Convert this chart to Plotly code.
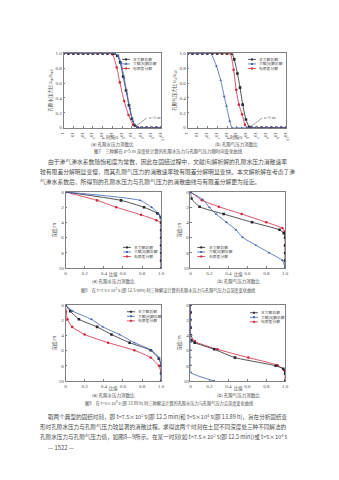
import plotly.graph_objects as go

W, H = 339, 480

# ---------------- data ----------------
series_names = ["本文解析解", "文献[6]解析解", "有限差分解"]
series_colors = ["#26262f", "#3f63b4", "#d2283e"]
series_symbols = ["square", "triangle-up", "circle"]

time_tick_vals = [1, 1e1, 1e2, 1e3, 1e4, 1e5, 1e6, 1e7, 1e8, 1e9, 1e10]
time_tick_text = ["1", "10", "10<sup>2</sup>", "10<sup>3</sup>", "10<sup>4</sup>", "10<sup>5</sup>",
                  "10<sup>6</sup>", "10<sup>7</sup>", "10<sup>8</sup>", "10<sup>9</sup>", "10<sup>10</sup>"]
ratio_tick_vals = [0, 0.2, 0.4, 0.6, 0.8, 1.0]
ratio_tick_text = ["0", "0.2", "0.4", "0.6", "0.8", "1.0"]
depth_tick_vals = [0, 2, 4, 6, 8, 10]
depth_tick_text = ["0", "2", "4", "6", "8", "10"]

# Fig.7(a) pore-water pressure ratio vs time at z = 5 m
t7a_this = [1, 3.16, 10, 31.6, 100, 316, 1e3, 3.16e3, 1e4, 3.16e4, 1e5, 1.6e5, 3.2e5, 6.3e5,
            1.26e6, 2.5e6, 5e6, 1e7, 2e7, 4e7, 1e8, 3.16e8, 1e9, 3.16e9, 1e10]
u7a_this = [1, 1, 1, 1, 1, 1, 1, 1, 1, 1, 1, 1.0, 0.97, 0.88, 0.69, 0.5, 0.3, 0.12, 0.03, 0.0,
            0, 0, 0, 0, 0]
t7a_ref6 = [1, 3.16, 10, 31.6, 100, 316, 1e3, 3.16e3, 1e4, 3.16e4, 1e5, 2e5, 4e5, 8e5,
            1.6e6, 3.2e6, 6.3e6, 1.26e7, 2.5e7, 5e7, 1e8, 3.16e8, 1e9, 3.16e9, 1e10]
u7a_ref6 = [1, 1, 1, 1, 1, 1, 1, 1, 1, 1, 1, 1.0, 0.97, 0.87, 0.67, 0.46, 0.26, 0.09, 0.02, 0.0,
            0, 0, 0, 0, 0]
t7a_fd = [1, 3.16, 10, 31.6, 100, 316, 1e3, 3.16e3, 1e4, 3.16e4, 1e5, 2.8e5, 5.8e5, 1.6e6,
          4.5e6, 1.3e7, 3.5e7, 1e8, 3.16e8, 1e9, 3.16e9, 1e10]
u7a_fd = [1, 1, 1, 1, 1, 1, 1, 1, 1, 1, 0.99, 0.81, 0.61, 0.36, 0.17, 0.04, 0.0, 0, 0, 0, 0, 0]

# Fig.7(b) pore-air pressure ratio vs time at z = 5 m
t7b_this = [1, 3.16, 10, 31.6, 100, 316, 1e3, 3.16e3, 1e4, 3.2e4, 5.4e4, 1.15e5, 2.1e5, 3.9e5,
            8.3e5, 1.8e6, 3.2e6, 1e7, 3.16e7, 1e8, 3.16e8, 1e9, 3.16e9, 1e10]
u7b_this = [1, 1, 1, 1, 1, 1, 1, 1, 1, 1.0, 0.92, 0.73, 0.54, 0.31, 0.11, 0.01, 0.0, 0, 0, 0,
            0, 0, 0, 0]
t7b_ref6 = [1, 3.16, 10, 31.6, 100, 230, 850, 2.3e3, 5.2e3, 8.9e3, 1.9e4, 3.2e4, 1e5, 3.16e5,
            1e6, 3.16e6, 1e7, 3.16e7, 1e8, 3.16e8, 1e9, 3.16e9, 1e10]
u7b_ref6 = [1, 1, 1, 1, 1, 1.0, 0.83, 0.64, 0.42, 0.29, 0.09, 0.0, 0, 0, 0, 0, 0, 0, 0, 0, 0,
            0, 0]
t7b_fd = [1, 3.16, 10, 31.6, 100, 316, 1e3, 3.16e3, 1e4, 2.2e4, 4.7e4, 8.5e4, 1.6e5, 3.4e5,
          6.6e5, 1.1e6, 3.16e6, 1e7, 3.16e7, 1e8, 3.16e8, 1e9, 3.16e9, 1e10]
u7b_fd = [1, 1, 1, 1, 1, 1, 1, 1, 1, 1.0, 0.78, 0.51, 0.31, 0.18, 0.04, 0.0, 0, 0, 0, 0, 0,
          0, 0, 0]

# Fig.8 profiles at t = 7.5e2 s
r8a_this = [0, 0.58, 0.82, 0.96, 0.995, 1.0, 1.0, 1.0, 1.0, 1.0, 1.0, 1.0]
z8a_this = [0, 1.1, 2.0, 2.8, 3.3, 4.0, 5.0, 6.0, 7.0, 8.0, 9.0, 10.0]
r8a_ref6 = [0, 0.78, 0.9, 0.975, 1.0, 1.0, 1.0, 1.0, 1.0, 1.0, 1.0]
z8a_ref6 = [0, 1.1, 2.0, 2.9, 3.5, 4.5, 5.5, 6.5, 7.5, 8.5, 10.0]
r8a_fd = [0, 0.33, 0.53, 0.79, 0.95, 1.0, 1.0, 1.0, 1.0, 1.0, 1.0, 1.0]
z8a_fd = [0, 1.1, 2.0, 3.0, 3.7, 4.1, 5.0, 6.0, 7.0, 8.0, 9.0, 10.0]

r8b_this = [0, 0.01, 0.096, 0.35, 0.65, 0.94, 0.985, 1.0, 1.0, 1.0, 1.0, 1.0]
z8b_this = [0, 0.86, 1.94, 2.89, 3.97, 4.96, 5.4, 6.0, 7.0, 8.0, 9.0, 10.0]
r8b_ref6 = [0, 0.13, 0.2, 0.27, 0.38, 0.48, 0.55, 0.69, 0.83, 0.97, 1.0]
z8b_ref6 = [0, 0.99, 2.03, 2.89, 3.97, 4.96, 5.95, 6.98, 7.97, 8.97, 9.9]
r8b_fd = [0, 0.12, 0.3, 0.54, 0.8, 0.97, 0.995, 1.0, 1.0, 1.0, 1.0, 1.0]
z8b_fd = [0, 1.08, 1.94, 2.89, 3.97, 4.74, 5.2, 6.0, 7.0, 8.0, 9.0, 10.0]

# Fig.9 profiles at t = 5e4 s
r9a_this = [0, 0.05, 0.14, 0.33, 0.48, 0.67, 0.89, 0.976, 1.0, 1.0, 1.0]
z9a_this = [0, 0.83, 1.9, 2.9, 3.9, 4.97, 5.97, 7.06, 8.0, 9.0, 10.0]
r9a_ref6 = [0, 0.075, 0.27, 0.39, 0.565, 0.72, 0.9, 0.976, 1.0, 1.0, 1.0]
z9a_ref6 = [0, 0.83, 1.9, 2.9, 3.9, 4.97, 5.97, 6.93, 8.0, 9.0, 10.0]
r9a_fd = [0, 0.005, 0.02, 0.07, 0.2, 0.445, 0.72, 0.89, 0.976, 1.0, 1.0]
z9a_fd = [0, 0.9, 1.9, 2.9, 3.9, 4.97, 5.97, 6.93, 8.0, 9.0, 10.0]

r9b_this = [0, 0, 0, 0, 0, 0.01, 0.045, 0.25, 0.47, 0.9, 0.98, 1.0, 1.0]
z9b_this = [0, 1.0, 2.0, 3.0, 4.0, 4.67, 4.97, 5.84, 6.93, 8.0, 8.4, 9.0, 10.0]
r9b_ref6 = [0, 0, 0, 0, 0, 0, 0, 0, 0, 0.005, 0.25]
z9b_ref6 = [0, 0.8, 1.9, 2.9, 3.9, 4.9, 5.9, 6.9, 7.9, 8.9, 10.0]
r9b_fd = [0, 0, 0, 0, 0.005, 0.045, 0.285, 0.61, 0.92, 0.99, 1.0, 1.0]
z9b_fd = [0, 1.0, 2.0, 3.0, 4.0, 4.8, 5.84, 6.93, 7.93, 8.6, 9.0, 10.0]

# ---------------- layout helpers ----------------
CJK = "Noto Sans CJK SC"
NUM = "Liberation Serif"
TXT = "#4a4a4a"


def px(x):
    return x / W


def py(y):
    return 1 - y / H


def dom_x(a, b):
    return [a / W, b / W]


def dom_y(top, bottom):
    return [1 - bottom / H, 1 - top / H]


fig = go.Figure()

panels = [
    # (suffix, xdomain px, ydomain px, series data, is_time)
    ("", (61, 161), (52, 127), [(t7a_this, u7a_this), (t7a_ref6, u7a_ref6), (t7a_fd, u7a_fd)], True),
    ("2", (188, 289), (52, 127), [(t7b_this, u7b_this), (t7b_ref6, u7b_ref6), (t7b_fd, u7b_fd)], True),
    ("3", (63, 161), (192, 269), [(r8a_this, z8a_this), (r8a_ref6, z8a_ref6), (r8a_fd, z8a_fd)], False),
    ("4", (191, 288), (192, 269), [(r8b_this, z8b_this), (r8b_ref6, z8b_ref6), (r8b_fd, z8b_fd)], False),
    ("5", (63, 161), (306, 383), [(r9a_this, z9a_this), (r9a_ref6, z9a_ref6), (r9a_fd, z9a_fd)], False),
    ("6", (191, 288), (306, 383), [(r9b_this, z9b_this), (r9b_ref6, z9b_ref6), (r9b_fd, z9b_fd)], False),
]

axis_common = dict(
    showline=True, linecolor="#808080", linewidth=0.6, mirror=True,
    ticks="inside", ticklen=2, tickwidth=0.5, tickcolor="#808080",
    showgrid=False, zeroline=False,
    tickfont=dict(family=NUM, size=5, color="#4a4a4a"),
)

ytitles = ["孔隙水压力比 u<sub>w</sub>/u<sub>w0</sub>", "孔隙气压力比 u<sub>a</sub>/u<sub>a0</sub>",
           "深度/m", "深度/m", "深度/m", "深度/m"]
xtitles = ["时间/s", "时间/s", "比值", "比值", "比值", "比值"]

for i, (sfx, xd, yd, data, is_time) in enumerate(panels):
    xa = "x" + sfx
    ya = "y" + sfx
    order = [2, 0, 1]  # finite-difference first, analytical solutions on top
    for k in order:
        xs, ys = data[k]
        fig.add_trace(go.Scatter(
            x=xs, y=ys, xaxis=xa, yaxis=ya, mode="lines+markers",
            line=dict(color=series_colors[k], width=0.8, shape="spline", smoothing=0.5),
            marker=dict(symbol=series_symbols[k], size=2.6, color=series_colors[k]),
            name=series_names[k], showlegend=False, hoverinfo="skip",
        ))
    xkey = "xaxis" + sfx
    ykey = "yaxis" + sfx
    if is_time:
        xcfg = dict(type="log", range=[0, 10], tickvals=time_tick_vals, ticktext=time_tick_text)
        ycfg = dict(range=[0, 1.0], tickvals=ratio_tick_vals, ticktext=ratio_tick_text)
    else:
        xcfg = dict(range=[0, 1.0], tickvals=ratio_tick_vals, ticktext=ratio_tick_text)
        ycfg = dict(range=[10, 0], tickvals=depth_tick_vals, ticktext=depth_tick_text)
    xcfg.update(axis_common)
    ycfg.update(axis_common)
    xcfg.update(domain=dom_x(*xd), anchor=ya)
    ycfg.update(domain=dom_y(*yd), anchor=xa,
                title=dict(text=ytitles[i], font=dict(family=CJK, size=4.5, color=TXT), standoff=2))
    fig.layout[xkey] = xcfg
    fig.layout[ykey] = ycfg

annotations = []
shapes = []


def text(s, x, y, size, anchor="center", family=CJK, color=TXT):
    annotations.append(dict(text=s, xref="paper", yref="paper", x=px(x), y=py(y),
                            xanchor=anchor, yanchor="middle", showarrow=False,
                            font=dict(family=family, size=size, color=color)))


def legend_block(x0, y0, dy=4.6):
    for k in range(3):
        yy = y0 + k * dy
        shapes.append(dict(type="line", xref="paper", yref="paper",
                           x0=px(x0), x1=px(x0 + 8), y0=py(yy), y1=py(yy),
                           line=dict(color=series_colors[k], width=0.8)))
        shapes.append(dict(type="rect", xref="paper", yref="paper",
                           x0=px(x0 + 3), x1=px(x0 + 5), y0=py(yy + 1), y1=py(yy - 1),
                           fillcolor=series_colors[k], line=dict(width=0)))
        text(series_names[k], x0 + 9.5, yy, 3.8, anchor="left")


legend_block(121, 58)
legend_block(250, 58)
legend_block(122, 248)
legend_block(198, 248)
legend_block(126, 313)
legend_block(252, 314)

# x-axis titles below the tick labels
x_title_pos = [(111, 136.5), (238, 136.5), (112, 275.5), (240, 275.5), (112, 390.5), (240, 390.5)]
for i, (xx, yy) in enumerate(x_title_pos):
    text(xtitles[i], xx, yy, 4.3)

# arrows marking the end of dissipation
annotations.append(dict(text="z=5 m", x=7.3, y=0.01, xref="x", yref="y", ax=12, ay=-9,
                        showarrow=True, arrowhead=0, arrowwidth=0.5, arrowcolor="#444",
                        font=dict(family=NUM, size=4.5, color=TXT), xanchor="left"))
annotations.append(dict(text="z=5 m", x=6.35, y=0.01, xref="x2", yref="y2", ax=12, ay=-9,
                        showarrow=True, arrowhead=0, arrowwidth=0.5, arrowcolor="#444",
                        font=dict(family=NUM, size=4.5, color=TXT), xanchor="left"))

# sub-figure captions
text("(a) 孔隙水压力消散比", 111, 143.5, 4.5)
text("(b) 孔隙气压力消散比", 238, 143.5, 4.5)
text("(a) 孔隙水压力消散比", 112, 282.5, 4.5)
text("(b) 孔隙气压力消散比", 240, 282.5, 4.5)
text("(a) 孔隙水压力消散比", 112, 397.5, 4.5)
text("(b) 孔隙气压力消散比", 240, 397.5, 4.5)

# figure captions
text("图7　三种解在 z=5 m 深度处计算的孔隙水压力与孔隙气压力随时间变化曲线", 168, 151, 4.4)
text("图8　在 t=7.5×10<sup>2</sup> s (即 12.5 min) 时三种解法计算的孔隙水压力与孔隙气压力沿深度变化曲线",
     168, 292, 4.2)
text("图9　在 t=5×10<sup>4</sup> s (即 13.89 h) 时三种解法计算的孔隙水压力与孔隙气压力沿深度变化曲线",
     170, 406, 4.2)

# body text
body1 = [
    (43, "由于渗气渗水系数随饱和度为常数，因此在固结过程中，文献[6]解析解的孔隙水压力消散速率"),
    (35, "较有限差分解明显变慢，而其孔隙气压力的消散速率较有限差分解明显变快。本文解析解在考虑了渗"),
    (35, "气渗水系数后，所得到的孔隙水压力与孔隙气压力的消散曲线与有限差分解更为接近。"),
]
for j, (x0, s) in enumerate(body1):
    text(s, x0, 161 + j * 10, 5.8, anchor="left")

body2 = [
    (43, "取两个典型的固结时刻，即 t=7.5×10<sup>2</sup> s(即 12.5 min)和 t=5×10<sup>4</sup> s(即 13.89 h)，旨在分析固结变"),
    (35, "形时孔隙水压力与孔隙气压力较显著的消散过程。求得这两个时刻在土层不同深度处三种不同解法的"),
    (35, "孔隙水压力与孔隙气压力值，如图8—9所示。在某一时刻(如 t=7.5×10<sup>2</sup> s(即 12.5 min))或 t=5×10<sup>4</sup> s"),
]
for j, (x0, s) in enumerate(body2):
    text(s, x0, 419 + j * 10, 5.6, anchor="left")

text("— 1522 —", 43, 450, 5.8, anchor="left")

fig.update_layout(
    width=W, height=H, autosize=False,
    margin=dict(l=0, r=0, t=0, b=0),
    paper_bgcolor="white", plot_bgcolor="white",
    showlegend=False,
    annotations=annotations, shapes=shapes,
)

fig.write_html("out.html")
